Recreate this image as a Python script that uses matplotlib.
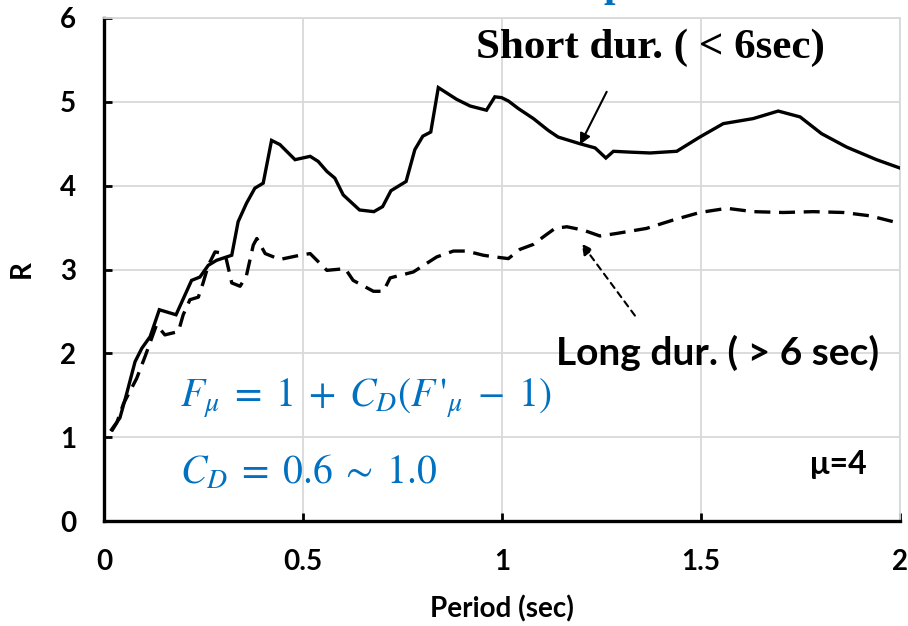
import matplotlib
matplotlib.use("Agg")
import matplotlib.pyplot as plt

# response ratio R vs period, mu = 4
period_short = [0.019, 0.040, 0.057, 0.078, 0.095, 0.116, 0.139, 0.181, 0.220, 0.241,
                0.262, 0.283, 0.321, 0.337, 0.358, 0.379, 0.400, 0.421, 0.442, 0.480,
                0.518, 0.538, 0.560, 0.580, 0.601, 0.642, 0.678, 0.700, 0.721, 0.759,
                0.781, 0.801, 0.821, 0.840, 0.886, 0.920, 0.961, 0.982, 0.999, 1.016,
                1.041, 1.079, 1.116, 1.141, 1.196, 1.234, 1.261, 1.280, 1.322, 1.372,
                1.439, 1.497, 1.556, 1.631, 1.694, 1.749, 1.803, 1.866, 1.941, 2.000]
r_short = [1.09, 1.23, 1.52, 1.90, 2.06, 2.20, 2.52, 2.46, 2.87, 2.91,
           3.05, 3.11, 3.17, 3.57, 3.79, 3.97, 4.03, 4.54, 4.49, 4.31,
           4.35, 4.29, 4.17, 4.09, 3.89, 3.71, 3.69, 3.75, 3.94, 4.05,
           4.43, 4.59, 4.64, 5.17, 5.03, 4.95, 4.90, 5.06, 5.05, 5.01,
           4.92, 4.80, 4.66, 4.58, 4.50, 4.45, 4.33, 4.41, 4.40, 4.39,
           4.41, 4.58, 4.74, 4.80, 4.89, 4.82, 4.62, 4.46, 4.31, 4.21]

period_long = [0.019, 0.032, 0.049, 0.082, 0.103, 0.132, 0.153, 0.187, 0.199, 0.216,
               0.237, 0.249, 0.262, 0.279, 0.304, 0.321, 0.342, 0.358, 0.375, 0.384,
               0.405, 0.442, 0.492, 0.518, 0.560, 0.606, 0.626, 0.677, 0.702, 0.719,
               0.777, 0.836, 0.878, 0.911, 0.953, 0.982, 1.016, 1.045, 1.079, 1.104,
               1.133, 1.163, 1.204, 1.246, 1.288, 1.363, 1.430, 1.497, 1.565, 1.631,
               1.707, 1.782, 1.858, 1.925, 2.000]
r_long = [1.07, 1.17, 1.40, 1.70, 1.96, 2.34, 2.22, 2.26, 2.46, 2.64,
          2.67, 2.84, 3.05, 3.21, 3.19, 2.84, 2.80, 2.93, 3.29, 3.37,
          3.19, 3.12, 3.17, 3.19, 2.99, 3.01, 2.87, 2.74, 2.74, 2.90,
          2.97, 3.15, 3.22, 3.22, 3.17, 3.15, 3.13, 3.24, 3.30, 3.39,
          3.49, 3.51, 3.47, 3.40, 3.43, 3.49, 3.59, 3.68, 3.73, 3.69,
          3.68, 3.69, 3.68, 3.64, 3.55]

x_ticks = [0, 0.5, 1, 1.5, 2]
x_ticklabels = ["0", "0.5", "1", "1.5", "2"]
y_ticks = [0, 1, 2, 3, 4, 5, 6]

BLUE = "#0070C0"
GRID = "#d9d9d9"
SANS = ["Lato", "DejaVu Sans"]

plt.rcParams["mathtext.fontset"] = "stix"

fig = plt.figure(figsize=(9.08, 6.26), dpi=100)
ax = fig.add_axes([104 / 908, 1 - 521 / 626, 796 / 908, 503 / 626])

ax.plot(period_short, r_short, color="black", lw=2.4, solid_joinstyle="miter", zorder=3)
ax.plot(period_long, r_long, color="black", lw=2.4, dashes=(4.8, 2.6), zorder=3)

ax.set_xlim(0, 2)
ax.set_ylim(0, 6)
ax.set_xticks(x_ticks)
ax.set_xticklabels(x_ticklabels)
ax.set_yticks(y_ticks)
ax.grid(True, color=GRID, lw=1.3, zorder=0)
ax.set_axisbelow(True)

for side in ("top", "right"):
    ax.spines[side].set_color(GRID)
    ax.spines[side].set_linewidth(1.3)
for side in ("left", "bottom"):
    ax.spines[side].set_linewidth(2.4)

ax.tick_params(direction="in", length=6, width=2, pad=20)
for lab in ax.get_xticklabels() + ax.get_yticklabels():
    lab.set_family(SANS)
    lab.set_fontweight("bold")
    lab.set_fontsize(20)

ax.set_xlabel("Period (sec)", family=SANS, fontweight="bold", fontsize=20, labelpad=15)
ax.set_ylabel("R", family=SANS, fontweight="bold", fontsize=20, labelpad=18)

# curve labels and arrows
ax.text(1.374, 5.65, "Short dur. ( < 6sec)", family="Liberation Serif", fontweight="bold",
        fontsize=31, ha="center", va="center")
ax.annotate("", xy=(1.196, 4.49), xytext=(1.263, 5.12),
            arrowprops=dict(arrowstyle="-|>", color="black", lw=1.5,
                            mutation_scale=16, shrinkA=0, shrinkB=0))

ax.text(1.541, 2.0, "Long dur. ( > 6 sec)", family=SANS, fontweight="bold",
        fontsize=28, ha="center", va="center")
ax.annotate("", xy=(1.200, 3.31), xytext=(1.334, 2.45),
            arrowprops=dict(arrowstyle="-|>", color="black", lw=1.5, ls=(0, (3, 2.5)),
                            mutation_scale=16, shrinkA=0, shrinkB=0))

ax.text(1.846, 0.67, "μ=4", family=SANS, fontweight="bold", fontsize=23,
        ha="center", va="center")

# reduction formula
ax.text(0.191, 1.47, r"$F_{\mu}\;=\;1\;+\;C_D(F\,'_{\mu}\;-\;1)$", color=BLUE, fontsize=28.5,
        ha="left", va="center")
ax.text(0.191, 0.58, r"$C_D\;=\;0.6\;\sim\;1.0$", color=BLUE, fontsize=28.5,
        ha="left", va="center")

# tail of the heading above the frame
fig.text(0.677, 1 + 4 / 626, "p", color=BLUE, fontsize=30, family="Liberation Serif",
         fontweight="bold", ha="center", va="baseline")

fig.savefig("out.png", dpi=100)
